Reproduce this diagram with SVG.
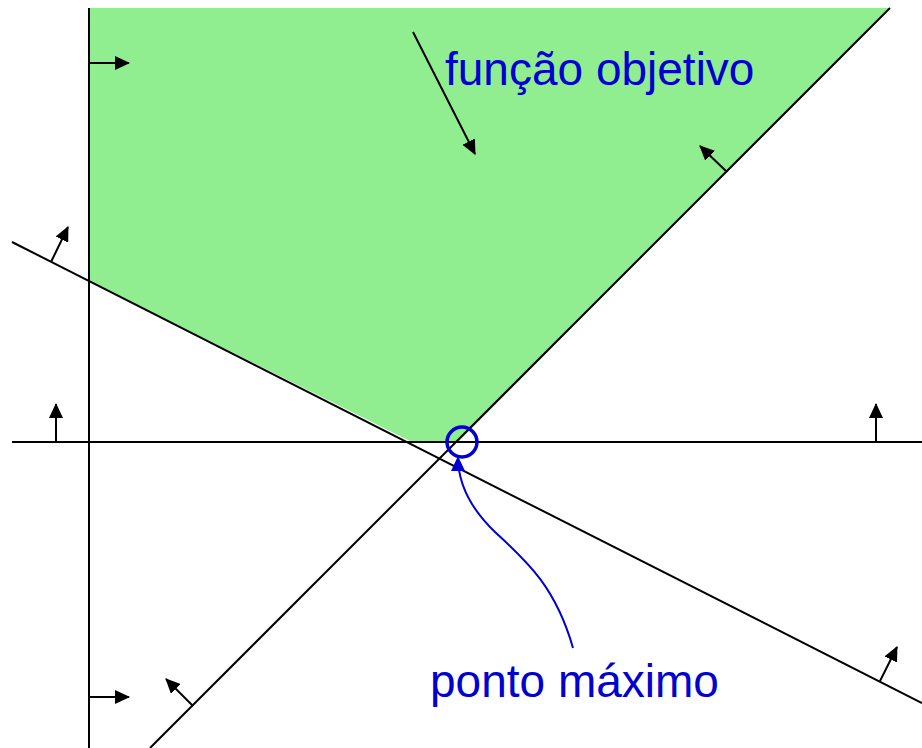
<svg xmlns="http://www.w3.org/2000/svg" width="922" height="748" viewBox="0 0 922 748">
<defs>
<style>
.ln{stroke:#000;stroke-width:2;fill:none}
.nr{stroke:#000;stroke-width:2;fill:none;marker-end:url(#ah)}
.lbl{font-family:"Liberation Sans",Arial,sans-serif;font-size:46px;fill:#0000d0}
</style>
<marker id="ah" markerUnits="userSpaceOnUse" markerWidth="16" markerHeight="14" refX="14" refY="7" orient="auto">
<path d="M0,0 L15,7 L0,14 Z" fill="#000"/>
</marker>
<marker id="bh" markerUnits="userSpaceOnUse" markerWidth="16" markerHeight="14" refX="14" refY="7" orient="auto">
<path d="M0,0 L15,7 L0,14 Z" fill="#0000d0"/>
</marker>
</defs>
<rect width="922" height="748" fill="#fff"/>
<g id="feasible-region">
<polygon points="89,8 890,8 458,442 412,442 89,281" fill="#90ee90"/>
</g>
<g id="connectors">
<line class="ln" x1="89" y1="8" x2="89" y2="748"/>
<line class="ln" x1="12" y1="442" x2="922" y2="442"/>
<line class="ln" x1="12" y1="242" x2="922" y2="703"/>
<line class="ln" x1="890" y1="8" x2="150" y2="748"/>
<line class="nr" x1="89" y1="63" x2="129" y2="63"/>
<line class="nr" x1="89" y1="697" x2="129" y2="697"/>
<line class="nr" x1="51" y1="262" x2="68" y2="227"/>
<line class="nr" x1="56" y1="442" x2="56" y2="404"/>
<line class="nr" x1="876" y1="442" x2="876" y2="404"/>
<line class="nr" x1="880" y1="681" x2="897" y2="647"/>
<line class="nr" x1="193" y1="706" x2="166" y2="679"/>
<line class="nr" x1="727" y1="172" x2="700" y2="146"/>
<line class="nr" x1="413" y1="32" x2="475" y2="154"/>
<path d="M573,648 C555,585 525,560 495,532 C468,506 458,482 458,457" fill="none" stroke="#0000d0" stroke-width="2" marker-end="url(#bh)"/>
</g>
<g id="max-point">
<circle cx="462" cy="442" r="15" fill="none" stroke="#0000d0" stroke-width="3.5"/>
</g>
<g id="label-objective">
<text class="lbl" x="445" y="85">função objetivo</text>
</g>
<g id="label-max">
<text class="lbl" x="430" y="697">ponto máximo</text>
</g>
</svg>
